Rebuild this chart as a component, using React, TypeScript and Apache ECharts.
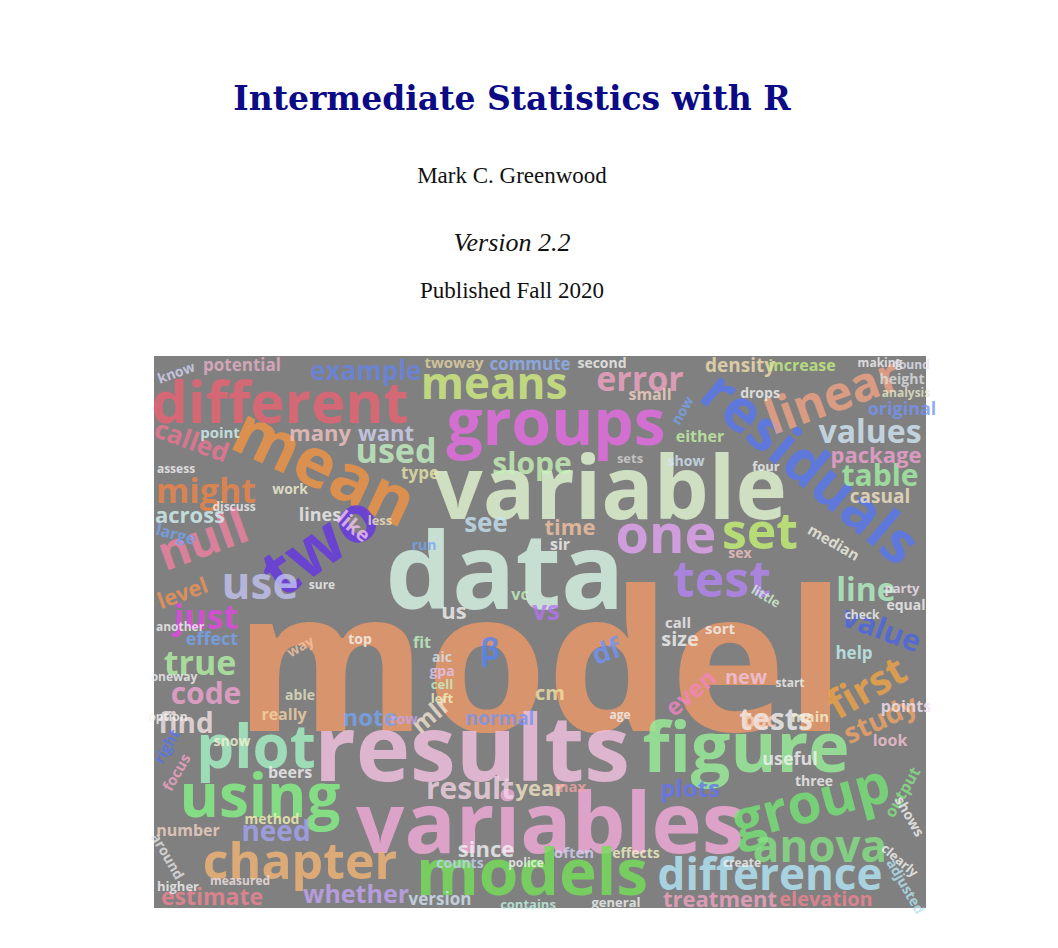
import React, { useEffect, useRef } from "react";
import * as echarts from "echarts";

const titleLines = [
  { text: "Intermediate Statistics with R", y: 98, size: 33, weight: "bold", style: "normal", color: "#0b0b86", font: "'DejaVu Serif', serif" },
  { text: "Mark C. Greenwood", y: 175, size: 23, weight: "normal", style: "normal", color: "#111", font: "'Liberation Serif', serif" },
  { text: "Version 2.2", y: 242, size: 26, weight: "normal", style: "italic", color: "#111", font: "'Liberation Serif', serif" },
  { text: "Published Fall 2020", y: 290, size: 23, weight: "normal", style: "normal", color: "#111", font: "'Liberation Serif', serif" },
];

// word, x, y (pixels inside the picture, y down), font size, rotation, colour
const cloudWords: [string, number, number, number, number, string][] = [
  ["model", 386, 299, 195, 0, "#ee9966"],
  ["data", 351, 212, 105, 0, "#d8f5e6"],
  ["variable", 456, 129, 87, 0, "#e2f6d2"],
  ["results", 318, 389, 92, 0, "#f4c2e2"],
  ["figure", 592, 389, 70, 0, "#98f098"],
  ["variables", 396, 464, 85, 0, "#f2aada"],
  ["models", 378, 514, 64, 0, "#74e058"],
  ["groups", 402, 64, 64, 0, "#e86ae6"],
  ["means", 340, 26, 44, 0, "#d2f080"],
  ["different", 126, 44, 58, 0, "#e86272"],
  ["residuals", 658, 110, 58, -40, "#5575f2"],
  ["mean", 172, 108, 68, -25, "#f29444"],
  ["two", 164, 186, 66, 35, "#6434e4"],
  ["null", 48, 182, 48, 20, "#f282a2"],
  ["might", 52, 134, 34, 0, "#f28444"],
  ["called", 38, 84, 26, -20, "#f27494"],
  ["example", 212, 14, 26, 0, "#6684e4"],
  ["potential", 88, 8, 17, 0, "#e6b0c8"],
  ["many", 166, 76, 22, 0, "#f2c4c4"],
  ["want", 232, 76, 22, 0, "#d4d4f4"],
  ["used", 242, 94, 34, 0, "#c4f2c4"],
  ["slope", 378, 106, 30, 0, "#c8f4b8"],
  ["type", 266, 116, 17, 0, "#e8e8a8"],
  ["error", 486, 22, 34, 0, "#f4a4c4"],
  ["density", 586, 9, 19, 0, "#f4e0b0"],
  ["increase", 648, 9, 16, 0, "#c4f280"],
  ["commute", 376, 7, 17, 0, "#90b0f4"],
  ["twoway", 300, 6, 15, 0, "#e4d4a0"],
  ["linear", 678, 38, 48, 20, "#f2a484"],
  ["values", 716, 74, 32, 0, "#d4eaf8"],
  ["original", 748, 52, 18, 0, "#7494f4"],
  ["height", 748, 22, 14, 0, "#e0e0e0"],
  ["analysis", 752, 36, 12, 0, "#e8e8c8"],
  ["table", 726, 118, 30, 0, "#a4f2a4"],
  ["package", 722, 98, 22, 0, "#f2a2d2"],
  ["casual", 726, 140, 19, 0, "#f4e4c4"],
  ["one", 512, 176, 54, 0, "#e2a2f2"],
  ["set", 606, 174, 50, 0, "#c4f274"],
  ["test", 568, 222, 50, 0, "#b484f2"],
  ["see", 332, 166, 26, 0, "#c4e4f4"],
  ["time", 416, 170, 22, 0, "#f4c4a4"],
  ["use", 106, 226, 44, 0, "#c4c4f4"],
  ["line", 712, 232, 32, 0, "#b4f4c4"],
  ["value", 728, 272, 30, -20, "#4a64e4"],
  ["first", 712, 330, 40, 30, "#f2a444"],
  ["level", 28, 236, 22, 20, "#f29454"],
  ["just", 52, 260, 34, 0, "#e444e4"],
  ["effect", 58, 282, 18, 0, "#74a4f4"],
  ["true", 46, 306, 34, 0, "#b4f4a4"],
  ["code", 52, 336, 30, 0, "#f2a4d4"],
  ["find", 32, 366, 28, 0, "#f4e4e4"],
  ["plot", 102, 389, 60, 0, "#a4f2c4"],
  ["using", 106, 438, 60, 0, "#84f284"],
  ["chapter", 146, 504, 50, 0, "#f2b474"],
  ["estimate", 58, 540, 23, 0, "#f28494"],
  ["number", 34, 474, 16, 0, "#f4d4c4"],
  ["need", 122, 474, 28, 0, "#a4a4f4"],
  ["method", 118, 462, 14, 0, "#f4f4b4"],
  ["beers", 136, 416, 16, 0, "#f4f4f4"],
  ["really", 130, 358, 16, 0, "#f4d4a4"],
  ["whether", 202, 537, 25, 0, "#c4a4f4"],
  ["version", 286, 542, 17, 0, "#d4e4f4"],
  ["since", 332, 492, 22, 0, "#f4f4f4"],
  ["counts", 306, 506, 14, 0, "#c4d4f4"],
  ["result", 316, 431, 30, 0, "#f4d4e4"],
  ["note", 216, 360, 24, 0, "#74a4f4"],
  ["mlr", 276, 358, 24, 40, "#f4e4d4"],
  ["normal", 346, 362, 19, 0, "#7494f4"],
  ["year", 386, 431, 22, 0, "#f4e4c4"],
  ["us", 300, 254, 22, 0, "#f4f4f4"],
  ["vs", 392, 254, 26, 0, "#b474f4"],
  ["df", 452, 294, 28, 20, "#7494f4"],
  ["β", 336, 292, 30, 0, "#5484f4"],
  ["aic", 288, 300, 14, 0, "#d4e4f4"],
  ["gpa", 288, 314, 14, 0, "#e4c4f4"],
  ["cell", 288, 328, 13, 0, "#c4f4c4"],
  ["left", 288, 342, 13, 0, "#f4f4c4"],
  ["tests", 622, 362, 30, 0, "#f4f4f4"],
  ["bac", 606, 364, 19, 0, "#f4d4c4"],
  ["plots", 536, 431, 24, 0, "#6474f4"],
  ["group", 656, 444, 55, 15, "#74e474"],
  ["anova", 666, 489, 44, 0, "#84e484"],
  ["difference", 616, 517, 44, 0, "#b4eafa"],
  ["treatment", 566, 542, 22, 0, "#f4a4c4"],
  ["elevation", 672, 542, 20, 0, "#f28494"],
  ["study", 726, 362, 28, 25, "#f2a464"],
  ["points", 752, 350, 16, 0, "#f4e4f4"],
  ["useful", 636, 402, 18, 0, "#f4f4f4"],
  ["output", 748, 436, 16, 60, "#84e484"],
  ["small", 496, 38, 16, 0, "#f4d4c4"],
  ["drops", 606, 36, 14, 0, "#f4f4f4"],
  ["sets", 476, 102, 13, 0, "#d4d4d4"],
  ["size", 526, 282, 20, 0, "#f4f4f4"],
  ["even", 536, 336, 24, 40, "#f284c4"],
  ["new", 592, 320, 20, 0, "#f4c4e4"],
  ["cm", 396, 336, 20, 0, "#f4e4a4"],
  ["help", 700, 296, 17, 0, "#c4f4f4"],
  ["look", 736, 384, 16, 0, "#f4c4d4"],
  ["main", 656, 360, 15, 0, "#f4f4d4"],
  ["three", 660, 424, 14, 0, "#f4f4f4"],
  ["often", 420, 496, 15, 0, "#d4d4f4"],
  ["effects", 482, 496, 14, 0, "#f4f4c4"],
  ["general", 462, 546, 13, 0, "#f4f4f4"],
  ["contains", 374, 548, 13, 0, "#c4f4e4"],
  ["police", 372, 506, 12, 0, "#f4f4f4"],
  ["across", 36, 158, 22, 0, "#d4f4f4"],
  ["large", 22, 178, 16, -15, "#74a4f4"],
  ["lines", 166, 158, 18, 0, "#f4f4f4"],
  ["like", 200, 170, 20, -40, "#f4c4f4"],
  ["less", 226, 164, 13, 0, "#f4e4c4"],
  ["work", 136, 132, 14, 0, "#f4f4d4"],
  ["either", 546, 80, 16, 0, "#c4f4a4"],
  ["now", 528, 54, 14, 60, "#74a4f4"],
  ["show", 532, 104, 14, 0, "#d4e4f4"],
  ["four", 612, 110, 13, 0, "#f4f4f4"],
  ["median", 680, 186, 15, -30, "#f4f4e4"],
  ["sex", 586, 196, 14, 0, "#f4c4c4"],
  ["sort", 566, 272, 15, 0, "#f4f4f4"],
  ["equal", 752, 248, 14, 0, "#f4f4f4"],
  ["party", 748, 232, 13, 0, "#f4e4f4"],
  ["little", 612, 240, 13, -30, "#d4f4d4"],
  ["point", 66, 76, 15, 0, "#d4f4f4"],
  ["know", 22, 16, 14, 20, "#d4d4f4"],
  ["second", 448, 6, 14, 0, "#f4f4f4"],
  ["making", 726, 6, 12, 0, "#f4f4f4"],
  ["found", 758, 8, 12, 0, "#e4e4f4"],
  ["top", 206, 282, 14, 0, "#f4f4f4"],
  ["fit", 268, 286, 16, 0, "#c4f4c4"],
  ["run", 270, 188, 14, 0, "#74a4f4"],
  ["sir", 406, 188, 16, 0, "#f4f4f4"],
  ["vc", 366, 238, 16, 0, "#c4f4c4"],
  ["call", 524, 266, 15, 0, "#f4f4f4"],
  ["snow", 78, 384, 14, 0, "#f4f4d4"],
  ["right", 12, 390, 15, 60, "#5474f4"],
  ["focus", 22, 416, 15, 60, "#f4a4c4"],
  ["able", 146, 338, 14, 0, "#e4e4c4"],
  ["way", 146, 290, 14, 30, "#f4c4a4"],
  ["around", 14, 500, 14, -60, "#e4e4e4"],
  ["higher", 24, 530, 13, 0, "#f4f4f4"],
  ["measured", 86, 524, 12, 0, "#f4e4e4"],
  ["create", 588, 506, 12, 0, "#f4f4f4"],
  ["clearly", 746, 504, 13, -40, "#f4f4f4"],
  ["adjusted", 752, 530, 14, -60, "#b4e4f4"],
  ["shows", 756, 460, 14, -60, "#f4f4f4"],
  ["max", 416, 430, 15, 0, "#f4a4a4"],
  ["age", 466, 358, 12, 0, "#f4f4f4"],
  ["row", 250, 362, 14, 0, "#c4a4f4"],
  ["sure", 168, 228, 12, 0, "#f4f4f4"],
  ["another", 26, 270, 12, 0, "#f4f4f4"],
  ["discuss", 80, 150, 12, 0, "#f4f4f4"],
  ["assess", 22, 112, 12, 0, "#f4f4f4"],
  ["start", 636, 326, 12, 0, "#f4f4f4"],
  ["check", 708, 258, 12, 0, "#f4f4f4"],
  ["option", 14, 360, 12, 0, "#f4f4f4"],
  ["oneway", 20, 320, 12, 0, "#f4f4f4"],
];

const pictureBox = { left: 154, top: 356, width: 772, height: 552 };

const App = () => {
  const chartRef = useRef<HTMLDivElement>(null);

  useEffect(() => {
    const myChart = echarts.init(chartRef.current!, null, { renderer: "svg" });
    const option = {
      animation: false,
      backgroundColor: "#ffffff",
      grid: {
        ...pictureBox,
        show: true,
        backgroundColor: "#808080",
        borderWidth: 0,
      },
      xAxis: { type: "value", min: 0, max: pictureBox.width, show: false },
      yAxis: { type: "value", min: 0, max: pictureBox.height, inverse: true, show: false },
      graphic: titleLines.map((t) => ({
        type: "text",
        x: 512,
        y: t.y,
        style: {
          text: t.text,
          fill: t.color,
          fontFamily: t.font,
          fontSize: t.size,
          fontWeight: t.weight,
          fontStyle: t.style,
          textAlign: "center",
          textVerticalAlign: "middle",
        },
      })),
      series: [
        {
          type: "scatter",
          symbolSize: 1,
          itemStyle: { color: "rgba(0,0,0,0)" },
          clip: false,
          silent: true,
          data: cloudWords.map(([w, x, y, s, r, c]) => ({
            value: [x, y],
            label: {
              show: true,
              position: "inside",
              formatter: w,
              fontSize: s,
              rotate: r,
              color: c,
              fontWeight: "bold",
              fontFamily: "'Open Sans', 'DejaVu Sans', sans-serif",
            },
          })),
        },
      ],
    };
    myChart.setOption(option);
    return () => {
      myChart.dispose();
    };
  }, []);

  return (
    <div
      ref={chartRef}
      style={{ position: "fixed", left: 0, top: 0, width: 1058, height: 948 }}
    ></div>
  );
};
export default App;
